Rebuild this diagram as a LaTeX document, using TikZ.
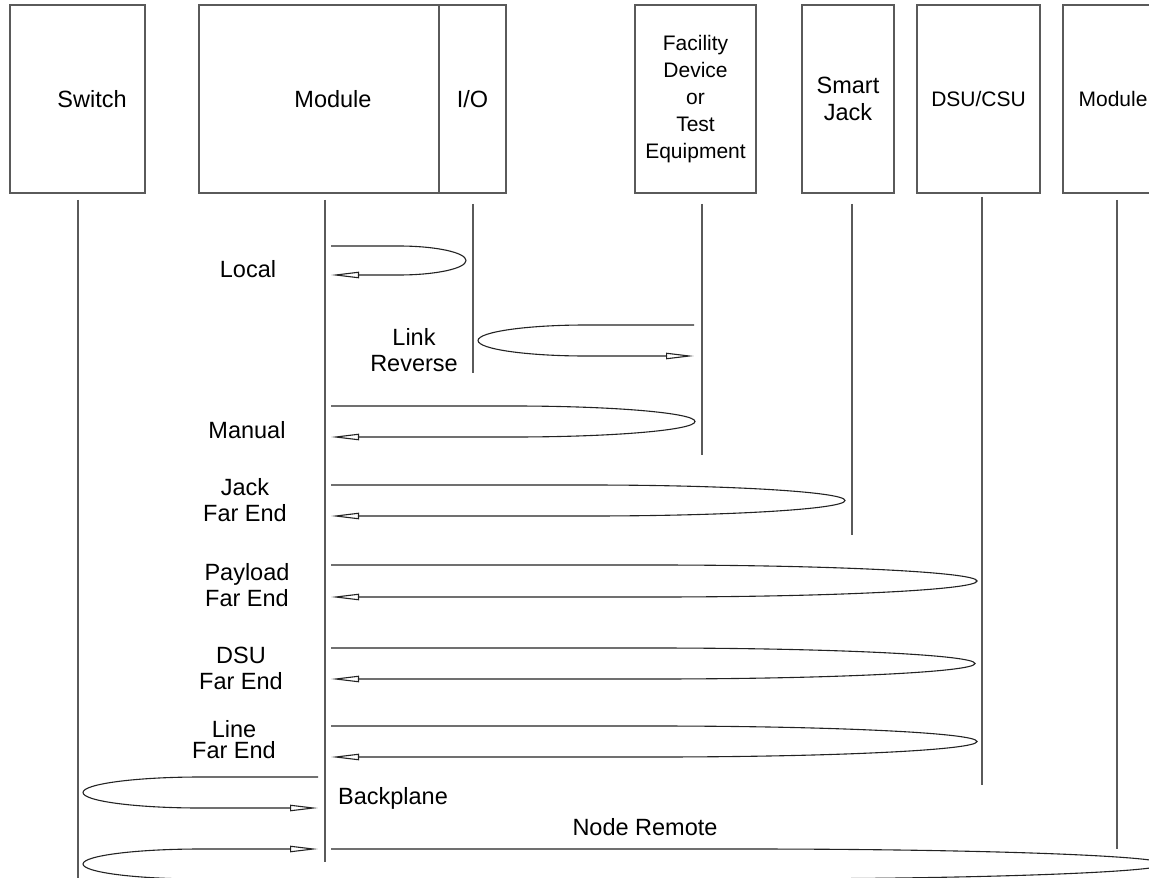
\documentclass[tikz,border=0pt]{standalone}
\usepackage{fontspec}
\setmainfont{Liberation Sans}
\usetikzlibrary{arrows.meta,positioning}
\definecolor{boxgray}{RGB}{90,90,90}
\definecolor{linegray}{RGB}{35,35,35}

\begin{document}
\begin{tikzpicture}[x=0.5pt,y=-0.5pt,
    unit/.style={draw=boxgray,line width=0.7pt,minimum height=94pt,inner sep=0pt,
      align=center,font=\fontsize{11.75}{13.5}\selectfont},
    smallunit/.style={unit,font=\fontsize{10.5}{13.5}\selectfont},
    unitname/.style={inner sep=0pt,font=\fontsize{11.75}{13.5}\selectfont},
    life/.style={draw=boxgray,line width=0.7pt},
    msg/.style={draw=linegray,line width=0.55pt,
      -{Triangle[open,length=14pt,width=3.2pt]}},
    tag/.style={inner sep=0pt,align=center,font=\fontsize{11.75}{13}\selectfont}
  ]
  \useasboundingbox (0,0) rectangle (1149,877);
  \clip (0,0) rectangle (1149,877);

  % units along the top
  \node[unit,minimum width=67.5pt] (sw) at (77.5,99) {};
  \node[unitname] (swname) at (92,99) {Switch};
  \node[unit,minimum width=120pt] (mod) at (319,99) {};
  \node[unitname] (modname) at (333,99) {Module};
  \node[unit,minimum width=33.5pt] (io) at (472.5,99) {I/O};
  \node[smallunit,minimum width=60.5pt] (fac) at (695.5,99)
    {Facility\\Device\\or\\Test\\Equipment};
  \node[unit,minimum width=46pt] (sj) at (848,99) {Smart\\Jack};
  \node[smallunit,minimum width=61.5pt] (dsu) at (978.5,99) {DSU/CSU};
  \node[smallunit,minimum width=50pt] (rmod) at (1113,99) {Module};

  % lifelines
  \draw[life] (78,200) coordinate (swL) -- (78,880);
  \draw[life] (325,200) coordinate (modL) -- (325,862);
  \draw[life] (473,204) coordinate (ioL) -- (473,373);
  \draw[life] (702,204) coordinate (facL) -- (702,455);
  \draw[life] (852,204) coordinate (sjL) -- (852,535);
  \draw[life] (982,197) coordinate (dsuL) -- (982,785);
  \draw[life] (1117,200) coordinate (rmodL) -- (1117,849);

  % loops turned back towards the module
  \foreach \yt/\yb/\xt in {246/275/466, 406/437/695, 485/516/845,
                           565/597/977, 648/679/975, 726/757/977}
    \draw[msg] (331,\yt) -- ({(331+\xt)/2},\yt)
      arc[start angle=-90,end angle=90,x radius={(\xt-331)/2},y radius={(\yb-\yt)/2}]
      -- (331,\yb);

  % link reverse, from the facility
  \draw[msg] (694,325) -- (586,325)
    arc[start angle=270,end angle=90,x radius=108,y radius=15.5] -- (694,356);

  % backplane, through the switch
  \draw[msg] (318,777) -- (200.5,777)
    arc[start angle=270,end angle=90,x radius=117.5,y radius=15.5] -- (318,808);

  % node remote, out to the far module and back
  \draw[msg] (331,849) -- (748,849)
    arc[start angle=-90,end angle=90,x radius=417,y radius=15] -- (200.5,879)
    arc[start angle=90,end angle=270,x radius=117.5,y radius=15] -- (318,849);

  % loop names
  \node[tag] (local) at (248,269) {Local};
  \node[tag] (linkrev) at (414,350) {Link\\Reverse};
  \node[tag] (manual) at (247,430) {Manual};
  \node[tag] (jack) at (245,500) {Jack\\Far End};
  \node[tag] (payload) at (247,585) {Payload\\Far End};
  \node[tag] (dsufar) at (241,668) {DSU\\Far End};
  \node[tag,font=\fontsize{11.75}{10.5}\selectfont] (linefar) at (234,740) {Line\\Far End};
  \node[tag] (backplane) at (393,798) {Backplane};
  \node[tag] (noderemote) at (645,827) {Node Remote};
\end{tikzpicture}
\end{document}
